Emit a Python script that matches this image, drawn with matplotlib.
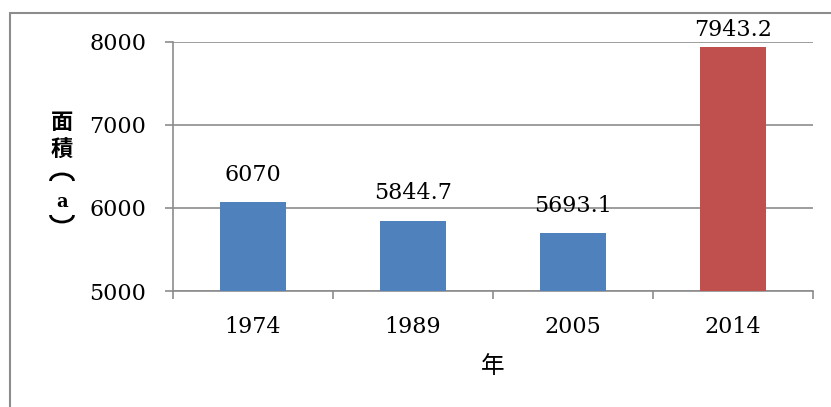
import matplotlib.pyplot as plt
from matplotlib.patches import Rectangle, Arc

plt.rcParams["font.family"] = ["DejaVu Serif", "Noto Sans CJK JP"]

# area by year
years = ["1974", "1989", "2005", "2014"]
areas = [6070, 5844.7, 5693.1, 7943.2]
bar_colors = ["#4f81bd", "#4f81bd", "#4f81bd", "#c0504d"]
y_ticks = [5000, 6000, 7000, 8000]

grid_gray = "#8c8c8c"
cjk = ["Noto Sans CJK JP", "DejaVu Sans"]

fig = plt.figure(figsize=(8.31, 4.07), dpi=100)
ax = fig.add_axes([0.208, 0.285, 0.770, 0.612])

x = range(len(years))
ax.bar(x, areas, width=0.41, color=bar_colors, zorder=3)

ax.set_xlim(-0.5, len(years) - 0.5)
ax.set_ylim(5000, 8000)
ax.set_yticks(y_ticks)
ax.set_yticklabels([str(t) for t in y_ticks], fontsize=16)
ax.set_xticks(list(x))
ax.set_xticklabels(years, fontsize=16)
ax.set_xticks([i - 0.5 for i in range(len(years) + 1)], minor=True)

ax.tick_params(axis="y", direction="out", length=6, width=1.2, color=grid_gray, pad=13)
ax.tick_params(axis="x", which="major", length=0, pad=18)
ax.tick_params(axis="x", which="minor", direction="out", length=6, width=1.2, color=grid_gray)

ax.grid(axis="y", color=grid_gray, linewidth=1.2, zorder=0)
for side in ["top", "right"]:
    ax.spines[side].set_visible(False)
for side in ["left", "bottom"]:
    ax.spines[side].set_color(grid_gray)
    ax.spines[side].set_linewidth(1.2)

# value labels, kept inside the plot area
for i, v in enumerate(areas):
    ax.text(i, min(v + 200, 8010), str(v), ha="center", va="bottom",
            fontsize=16, zorder=4)

ax.set_xlabel("年", fontsize=17, family=cjk, labelpad=12)

# vertical axis title, one character per line
fig.text(0.0746, 0.698, "面", ha="center", va="center", fontsize=16,
         family=cjk, fontweight="bold")
fig.text(0.0746, 0.631, "積", ha="center", va="center", fontsize=16,
         family=cjk, fontweight="bold")
fig.text(0.0746, 0.504, "a", ha="center", va="center", fontsize=13,
         fontweight="bold")
# sideways brackets around the unit (positions in inches)
fig.patches.append(Arc((0.62, 2.26), 0.23, 0.14, theta1=0, theta2=180,
                       transform=fig.dpi_scale_trans, color="black", linewidth=2))
fig.patches.append(Arc((0.62, 1.92), 0.23, 0.14, theta1=180, theta2=360,
                       transform=fig.dpi_scale_trans, color="black", linewidth=2))

# chart frame
fig.patches.append(Rectangle((0.012, -0.1), 1.1, 1.068, transform=fig.transFigure,
                             fill=False, edgecolor=grid_gray, linewidth=1.5))

fig.savefig("out.png", dpi=100)
